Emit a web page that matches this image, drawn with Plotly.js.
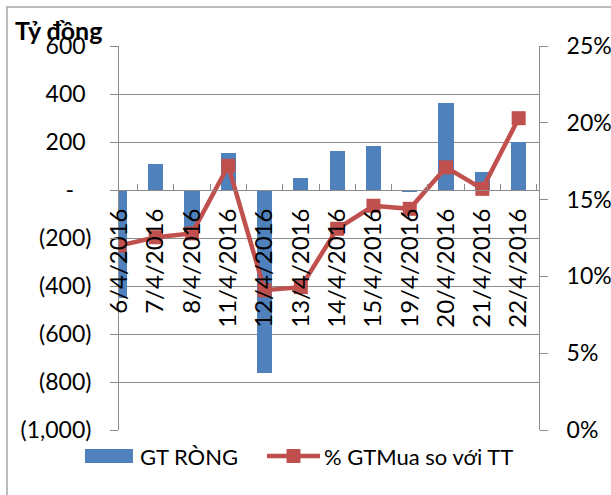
<!DOCTYPE html>
<html>
<head>
<meta charset="utf-8">
<script src="https://cdn.plot.ly/plotly-3.0.1.min.js"></script>
<style>
html,body{margin:0;padding:0;background:#fff;}
#chart{width:611px;height:495px;}
</style>
</head>
<body>
<div id="chart"></div>
<script>
// ---- data ----
var categories = ['6/4/2016','7/4/2016','8/4/2016','11/4/2016','12/4/2016','13/4/2016','14/4/2016','15/4/2016','19/4/2016','20/4/2016','21/4/2016','22/4/2016'];
var netValue = [-450, 108, -180, 154, -761, 50, 164, 185, -10, 363, 74, 201];
var buyShare = [0.120, 0.1255, 0.128, 0.172, 0.091, 0.093, 0.131, 0.146, 0.144, 0.171, 0.157, 0.203];
var leftTickVals = [-1000, -800, -600, -400, -200, 0, 200, 400, 600];
var leftTickText = ['(1,000)', '(800)', '(600)', '(400)', '(200)', '-\u2002\u2005', '200\u2005', '400\u2005', '600\u2005'];
var seriesNames = ['GT RÒNG', '% GTMua so với TT'];

var FONT = 'Lato, "Open Sans", sans-serif';
var BLUE = '#4F81BD', RED = '#C0504D', GRID = '#8c8c8c';

// plot area in pixels: x 119..539, y 46..430
var L = 119, R = 539, T = 46, B = 430;
function px(x){ return (x - L) / (R - L); }
function py(y){ return (B - y) / (B - T); }

var traces = [
  {
    type: 'bar', name: seriesNames[0], x: categories, y: netValue,
    marker: {color: BLUE}, width: 0.42, showlegend: false,
    xaxis: 'x', yaxis: 'y'
  },
  {
    type: 'scatter', mode: 'lines+markers', name: seriesNames[1], x: categories, y: buyShare,
    line: {color: RED, width: 4.5}, marker: {symbol: 'square', size: 14, color: RED},
    showlegend: false, xaxis: 'x', yaxis: 'y2'
  }
];

var layout = {
  width: 611, height: 495,
  margin: {l: L, r: 611 - R, t: T, b: 495 - B, pad: 0},
  paper_bgcolor: '#fff', plot_bgcolor: '#fff',
  font: {family: FONT, size: 22, color: '#000'},
  showlegend: false,
  bargap: 0,
  xaxis: {
    type: 'category', range: [-0.01, 11.56],
    anchor: 'free', position: 0.625,
    showline: true, linecolor: GRID, linewidth: 1,
    ticks: 'inside', ticklen: 6, tickcolor: GRID, tickson: 'boundaries',
    tickangle: -90, tickfont: {family: FONT, size: 24, color: '#000'},
    ticklabelstandoff: 8,
    showgrid: false, zeroline: false, fixedrange: true
  },
  yaxis: {
    range: [-1000, 600], tickvals: leftTickVals, ticktext: leftTickText,
    showline: true, linecolor: GRID, linewidth: 1,
    ticks: 'outside', ticklen: 8, tickcolor: GRID,
    showgrid: true, gridcolor: GRID, gridwidth: 1, zeroline: false,
    tickfont: {family: FONT, size: 23, color: '#000'},
    ticklabelstandoff: 14, fixedrange: true
  },
  yaxis2: {
    range: [0, 0.25], dtick: 0.05, tickformat: '.0%', overlaying: 'y', side: 'right',
    showline: true, linecolor: GRID, linewidth: 1,
    ticks: 'outside', ticklen: 8, tickcolor: GRID,
    showgrid: false, zeroline: false,
    tickfont: {family: FONT, size: 23, color: '#000'},
    ticklabelstandoff: 14, fixedrange: true
  },
  shapes: [
    // outer chart frame (top and left edges visible)
    {type: 'path', xref: 'paper', yref: 'paper',
     path: 'M ' + px(7) + ',' + py(497) + ' L ' + px(7) + ',' + py(7) + ' L ' + px(613) + ',' + py(7),
     line: {color: '#a6a6a6', width: 1.5}},
    // legend: bar swatch
    {type: 'rect', xref: 'paper', yref: 'paper',
     x0: px(85), x1: px(133), y0: py(463), y1: py(449),
     fillcolor: BLUE, line: {width: 0}},
    // legend: line swatch
    {type: 'line', xref: 'paper', yref: 'paper',
     x0: px(267), x1: px(320), y0: py(456), y1: py(456),
     line: {color: RED, width: 4.5}},
    {type: 'rect', xref: 'paper', yref: 'paper',
     x0: px(286.5), x1: px(300.5), y0: py(463), y1: py(449),
     fillcolor: RED, line: {width: 0}}
  ],
  annotations: [
    {text: '<b>Tỷ đồng</b>', xref: 'paper', yref: 'paper', x: px(13), y: py(30),
     xanchor: 'left', yanchor: 'middle', showarrow: false,
     font: {family: FONT, size: 25, color: '#000'}},
    {text: seriesNames[0], xref: 'paper', yref: 'paper', x: px(138), y: py(456),
     xanchor: 'left', yanchor: 'middle', showarrow: false,
     font: {family: FONT, size: 22, color: '#000'}},
    {text: seriesNames[1], xref: 'paper', yref: 'paper', x: px(322), y: py(456),
     xanchor: 'left', yanchor: 'middle', showarrow: false,
     font: {family: FONT, size: 22, color: '#000'}}
  ]
};

Plotly.newPlot('chart', traces, layout, {staticPlot: true, displayModeBar: false});
</script>
</body>
</html>
